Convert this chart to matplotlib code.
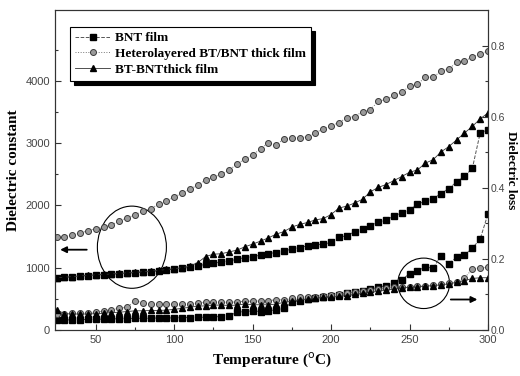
import matplotlib
matplotlib.use("Agg")
import matplotlib.pyplot as plt
from matplotlib.patches import Ellipse

temperature = [25, 30, 35, 40, 45, 50, 55, 60, 65, 70, 75, 80, 85, 90, 95, 100,
               105, 110, 115, 120, 125, 130, 135, 140, 145, 150, 155, 160, 165, 170,
               175, 180, 185, 190, 195, 200, 205, 210, 215, 220, 225, 230, 235, 240,
               245, 250, 255, 260, 265, 270, 275, 280, 285, 290, 295, 300]

# Dielectric constant (left axis)
bnt_dc = [835, 845, 855, 865, 875, 882, 890, 895, 905, 912, 920, 930, 938, 950, 965, 978,
          992, 1005, 1028, 1056, 1072, 1093, 1109, 1137, 1163, 1179, 1202, 1228, 1244, 1271,
          1299, 1325, 1352, 1364, 1380, 1406, 1490, 1515, 1579, 1623, 1677, 1730, 1769, 1828,
          1883, 1931, 2017, 2071, 2110, 2191, 2272, 2379, 2471, 2596, 3164, 3217]
hetero_dc = [1490, 1500, 1525, 1555, 1595, 1630, 1650, 1690, 1750, 1800, 1855, 1905, 1950, 2020,
             2070, 2135, 2200, 2260, 2330, 2407, 2455, 2504, 2569, 2666, 2747, 2812, 2909, 3006,
             2974, 3071, 3087, 3087, 3104, 3168, 3233, 3282, 3330, 3412, 3428, 3509, 3541, 3671,
             3704, 3768, 3817, 3914, 3947, 4060, 4060, 4158, 4190, 4303, 4320, 4385, 4433, 4482]
btbnt_dc = [840, 848, 858, 868, 878, 885, 893, 900, 910, 918, 926, 936, 945, 958, 972, 985,
            1000, 1028, 1082, 1180, 1218, 1225, 1255, 1283, 1336, 1380, 1428, 1480, 1540, 1582,
            1655, 1696, 1728, 1769, 1790, 1855, 1960, 1990, 2040, 2100, 2220, 2290, 2337, 2400,
            2465, 2535, 2570, 2680, 2735, 2860, 2946, 3055, 3164, 3271, 3391, 3488]

# Dielectric loss (right axis)
bnt_loss = [0.028, 0.028, 0.029, 0.029, 0.030, 0.030, 0.031, 0.031, 0.032, 0.032, 0.033, 0.033,
            0.033, 0.034, 0.034, 0.034, 0.035, 0.035, 0.036, 0.036, 0.038, 0.037, 0.040, 0.050,
            0.052, 0.054, 0.052, 0.054, 0.057, 0.061, 0.078, 0.083, 0.087, 0.089, 0.092, 0.095,
            0.099, 0.103, 0.107, 0.110, 0.115, 0.120, 0.125, 0.132, 0.142, 0.158, 0.167, 0.177,
            0.174, 0.208, 0.186, 0.205, 0.211, 0.230, 0.256, 0.327]
hetero_loss = [0.046, 0.046, 0.047, 0.048, 0.049, 0.050, 0.053, 0.057, 0.061, 0.064, 0.083, 0.076,
               0.073, 0.073, 0.073, 0.073, 0.072, 0.073, 0.076, 0.078, 0.078, 0.078, 0.078, 0.079,
               0.081, 0.081, 0.082, 0.083, 0.085, 0.085, 0.089, 0.092, 0.092, 0.094, 0.097, 0.099,
               0.101, 0.104, 0.106, 0.109, 0.113, 0.116, 0.118, 0.120, 0.121, 0.122, 0.123, 0.125,
               0.127, 0.129, 0.131, 0.134, 0.146, 0.172, 0.175, 0.176]
btbnt_loss = [0.057, 0.046, 0.045, 0.045, 0.045, 0.046, 0.047, 0.049, 0.050, 0.052, 0.054, 0.054,
              0.055, 0.055, 0.056, 0.058, 0.061, 0.064, 0.067, 0.068, 0.070, 0.070, 0.069, 0.070,
              0.073, 0.071, 0.071, 0.071, 0.073, 0.078, 0.081, 0.085, 0.087, 0.089, 0.092, 0.092,
              0.095, 0.097, 0.100, 0.103, 0.106, 0.109, 0.112, 0.115, 0.118, 0.120, 0.121, 0.123,
              0.125, 0.127, 0.130, 0.134, 0.139, 0.145, 0.147, 0.147]

labels = ["BNT film", "Heterolayered BT/BNT thick film", "BT-BNTthick film"]

serif = ["Liberation Serif", "DejaVu Serif"]
sans = ["Liberation Sans", "DejaVu Sans"]

fig = plt.figure(figsize=(5.2, 3.76), dpi=100)
ax = fig.add_axes([0.1058, 0.1223, 0.8327, 0.8511])
ax2 = ax.twinx()

sq = dict(marker="s", ms=4.3, color="#555555", mfc="black", mec="black", lw=0.7, ls="--")
ci = dict(marker="o", ms=4.3, color="#777777", mfc="#9a9a9a", mec="#3a3a3a", mew=0.7, lw=0.7, ls=":")
tr = dict(marker="^", ms=5.0, color="#333333", mfc="black", mec="black", lw=0.6, ls="-")

l1, = ax.plot(temperature, bnt_dc, label=labels[0], **sq)
l2, = ax.plot(temperature, hetero_dc, label=labels[1], **ci)
l3, = ax.plot(temperature, btbnt_dc, label=labels[2], **tr)
ax2.plot(temperature, bnt_loss, **sq)
ax2.plot(temperature, hetero_loss, **ci)
ax2.plot(temperature, btbnt_loss, **tr)

ax.set_xlim(24, 300)
ax.set_ylim(0, 5140)
ax2.set_ylim(0, 0.9)

ax.set_xticks([50, 100, 150, 200, 250, 300])
ax.set_xticks([75, 125, 175, 225, 275], minor=True)
ax.set_yticks([0, 1000, 2000, 3000, 4000])
ax.set_yticks([500, 1500, 2500, 3500, 4500], minor=True)
ax2.set_yticks([0.0, 0.2, 0.4, 0.6, 0.8])
ax2.set_yticks([0.1, 0.3, 0.5, 0.7], minor=True)
ax2.set_yticklabels(["0.0", "0.2", "0.4", "0.6", "0.8"])

for a in (ax, ax2):
    a.tick_params(which="both", direction="in", colors="#333333", labelcolor="#444444",
                  labelsize=8, width=0.8)
    a.tick_params(which="major", length=4)
    a.tick_params(which="minor", length=2.5)
    for lab in a.get_xticklabels() + a.get_yticklabels():
        lab.set_family(sans)
    for s in a.spines.values():
        s.set_color("#333333")
        s.set_linewidth(0.8)
ax.tick_params(axis="x", top=False)
ax2.tick_params(axis="y", pad=2, labelsize=7.5)

ax.set_xlabel("Temperature ($^{\\rm o}$C)", family=serif, fontweight="bold", fontsize=11, labelpad=4)
ax.set_ylabel("Dielectric constant", family=serif, fontweight="bold", fontsize=11, labelpad=4)
ax2.set_ylabel("Dielectric loss", family=serif, fontweight="bold", fontsize=9.5, rotation=-90,
               va="center", ha="center")
ax2.yaxis.set_label_coords(1.053, 0.5)

leg = ax.legend(handles=[l1, l2, l3], loc="upper left", bbox_to_anchor=(0.035, 0.947),
                borderaxespad=0,
                prop={"family": serif, "weight": "bold", "size": 9.5}, fancybox=False,
                edgecolor="black", framealpha=1, borderpad=0.4, labelspacing=0.25,
                handlelength=2.6, handletextpad=0.4,
                shadow={"color": "black", "alpha": 1, "ox": 3, "oy": -3})
leg.get_frame().set_linewidth(0.8)

# annotation circles and arrows
ax.add_patch(Ellipse((73, 1330), 44, 1320, fill=False, color="black", lw=0.8))
ax.add_patch(Ellipse((259, 750), 33, 810, fill=False, color="black", lw=0.8))
ax.annotate("", xy=(25.5, 1290), xytext=(46, 1290),
            arrowprops=dict(arrowstyle="-|>", color="black", lw=1.3, mutation_scale=9))
ax.annotate("", xy=(295, 490), xytext=(274.5, 490),
            arrowprops=dict(arrowstyle="-|>", color="black", lw=1.3, mutation_scale=9))

fig.savefig("out.png", dpi=100)
